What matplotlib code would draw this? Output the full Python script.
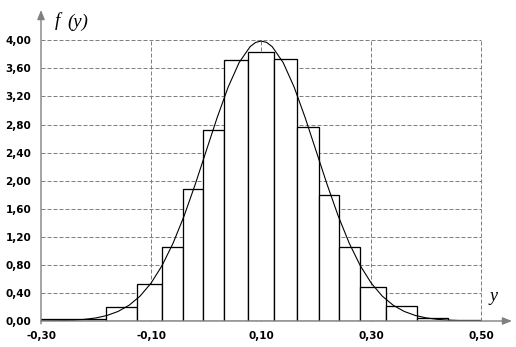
import matplotlib
matplotlib.use("Agg")
import matplotlib.pyplot as plt
import numpy as np

# Histogram bin edges and heights
bin_edges = [-0.30, -0.241, -0.181, -0.125, -0.081, -0.042, -0.005, 0.033, 0.077,
             0.124, 0.166, 0.206, 0.242, 0.280, 0.326, 0.383, 0.439, 0.50]
bar_heights = [0.03, 0.03, 0.20, 0.53, 1.06, 1.88, 2.72, 3.72, 3.84,
               3.73, 2.77, 1.79, 1.06, 0.49, 0.21, 0.04, 0.02]

# Density curve points
curve_x = [-0.30, -0.28, -0.26, -0.24, -0.22, -0.20, -0.18, -0.16, -0.14, -0.12,
           -0.10, -0.08, -0.06, -0.04, -0.02, 0.00, 0.02, 0.04, 0.06, 0.08, 0.09, 0.10,
           0.11, 0.12, 0.14, 0.16, 0.18, 0.20, 0.22, 0.24, 0.26, 0.28, 0.30, 0.32, 0.34,
           0.36, 0.38, 0.40, 0.42, 0.44, 0.46, 0.48, 0.50]
curve_y = [0.001, 0.003, 0.006, 0.012, 0.024, 0.044, 0.079, 0.136, 0.224, 0.355,
           0.540, 0.790, 1.109, 1.497, 1.942, 2.420, 2.897, 3.332, 3.683, 3.910, 3.970, 3.989,
           3.970, 3.910, 3.683, 3.332, 2.897, 2.420, 1.942, 1.497, 1.109, 0.790, 0.540, 0.355, 0.224,
           0.136, 0.079, 0.044, 0.024, 0.012, 0.006, 0.003, 0.001]

x_ticks = [-0.30, -0.10, 0.10, 0.30, 0.50]
x_tick_labels = ["-0,30", "-0,10", "0,10", "0,30", "0,50"]
y_ticks = [0.0, 0.4, 0.8, 1.2, 1.6, 2.0, 2.4, 2.8, 3.2, 3.6, 4.0]
y_tick_labels = ["0,00", "0,40", "0,80", "1,20", "1,60", "2,00", "2,40", "2,80", "3,20", "3,60", "4,00"]

W, H = 516, 347
fig = plt.figure(figsize=(W / 100, H / 100), dpi=100)
left, right = 41 / W, 481.3 / W
bottom, top = 1 - 321 / H, 1 - 40.3 / H
ax = fig.add_axes([left, bottom, right - left, top - bottom])
ax.set_xlim(-0.30, 0.50)
ax.set_ylim(0, 4.0)

px = 0.72  # one pixel in points
gray = "#808080"

# grid
for xv in x_ticks[1:]:
    ax.plot([xv, xv], [0, 4.0], color=gray, lw=px, dashes=(4, 2), zorder=1, clip_on=False)
for yv in y_ticks[1:]:
    ax.plot([-0.30, 0.50], [yv, yv], color=gray, lw=px, dashes=(4, 2), zorder=1, clip_on=False)

edges = np.array(bin_edges)
ax.bar(edges[:-1], bar_heights, width=np.diff(edges), align="edge",
       color="white", edgecolor="black", linewidth=px * 1.3, zorder=2)

ax.plot(curve_x, curve_y, color="black", lw=px * 1.1, zorder=3)

for s in ax.spines.values():
    s.set_visible(False)

# axes with arrows
ytip = 4.0 + (40.3 - 10) / 70.2
xtip = 0.50 + (512 - 481.3) / 550.4
arrow = dict(arrowstyle="-|>,head_length=0.55,head_width=0.22", color=gray,
             lw=px * 1.4, shrinkA=0, shrinkB=0)
ax.annotate("", xy=(-0.30, ytip), xytext=(-0.30, -0.04), arrowprops=arrow,
            annotation_clip=False, zorder=4)
ax.annotate("", xy=(xtip, 0), xytext=(-0.30, 0), arrowprops=arrow,
            annotation_clip=False, zorder=4)

ax.set_xticks(x_ticks)
ax.set_xticklabels(x_tick_labels)
ax.set_yticks(y_ticks)
ax.set_yticklabels(y_tick_labels)
ax.tick_params(length=0, labelsize=7.5, pad=7.0)
for lab in ax.get_xticklabels() + ax.get_yticklabels():
    lab.set_fontweight("bold")
    lab.set_family("DejaVu Sans")

fig.text(55 / W, 1 - 26.5 / H, "f", family="Liberation Serif", style="italic",
         fontsize=13.5, ha="left", va="baseline")
fig.text(67 / W, 1 - 26.5 / H, "(y)", family="Liberation Serif", style="italic",
         fontsize=13.5, ha="left", va="baseline")
fig.text(489 / W, 1 - 301 / H, "y", family="Liberation Serif", style="italic",
         fontsize=13, ha="left", va="baseline")

fig.savefig("out.png", dpi=100, facecolor="white")
